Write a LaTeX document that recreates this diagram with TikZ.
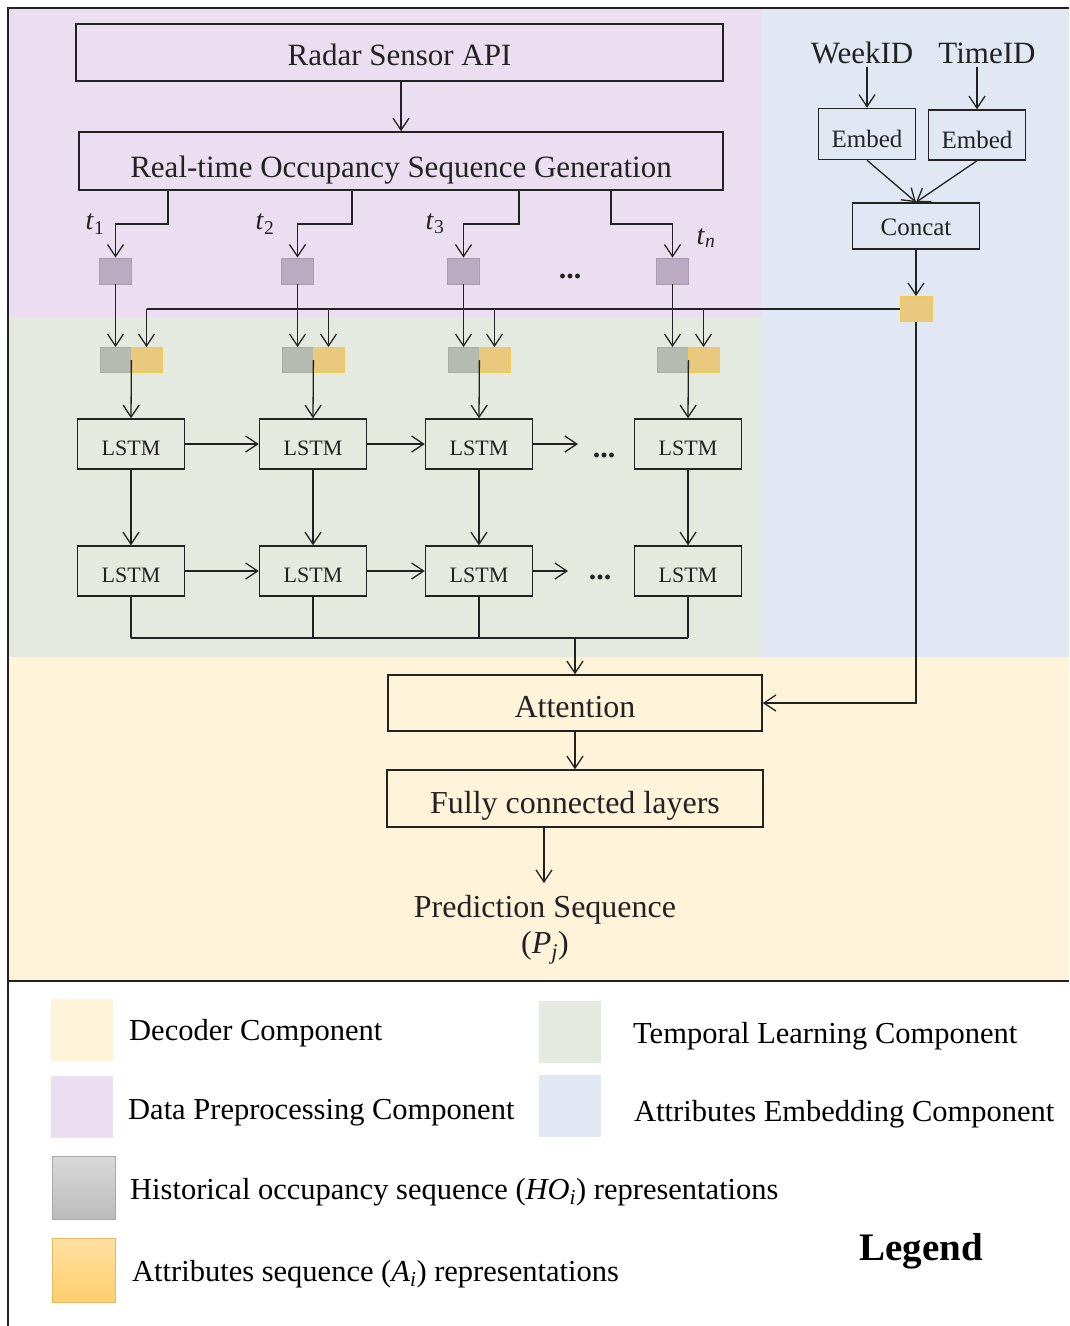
\documentclass[tikz,border=0pt]{standalone}
\usepackage{fontspec}
\setmainfont{Liberation Serif}
\usetikzlibrary{arrows.meta,calc}

\definecolor{prepbg}{HTML}{EBDEF0}
\definecolor{embbg}{HTML}{E1E8F4}
\definecolor{tempbg}{HTML}{E5EAE0}
\definecolor{decbg}{HTML}{FFF4D9}
\definecolor{ink}{HTML}{222222}
\definecolor{seqfill}{HTML}{BAABC3}
\definecolor{seqedge}{HTML}{AA9BB3}
\definecolor{histfill}{HTML}{B6BBB1}
\definecolor{histedge}{HTML}{A9AEA4}
\definecolor{attfill}{HTML}{E8C97E}
\definecolor{attedge}{HTML}{EFCA55}
\definecolor{greytop}{HTML}{D8D8D8}
\definecolor{greybot}{HTML}{BCBCBC}
\definecolor{orgtop}{HTML}{FFE0A2}
\definecolor{orgbot}{HTML}{FFCE6C}

\newcommand\fs[2]{\fontsize{#1}{#2}\selectfont}
\newcommand\tsub[2]{\textit{#1}\textsubscript{#2}}
\newcommand\isub[2]{\textit{#1}\textsubscript{\textit{#2}}}

\begin{document}
\begin{tikzpicture}[x=1pt,y=-1pt,
  box/.style={draw=ink, line width=1.5pt, inner sep=0pt, text=ink, text depth=0pt},
  lstm/.style={box, minimum width=107pt, minimum height=50pt, font=\fs{22}{26}, text height=22.6pt},
  arr/.style={draw=ink, line width=1.3pt, -{Straight Barb[length=12pt,width=16pt]}},
  wire/.style={draw=ink, line width=1.3pt},
  seqbox/.style={fill=seqfill, draw=seqedge, line width=0.8pt, minimum width=32pt, minimum height=26pt, inner sep=0pt},
  histbox/.style={fill=histfill, draw=histedge, line width=0.8pt, minimum width=31pt, minimum height=25pt, inner sep=0pt},
  attbox/.style={fill=attfill, draw=attedge, line width=0.8pt, minimum width=31pt, minimum height=25pt, inner sep=0pt},
  dots/.style={inner sep=0pt, text=ink, font=\fs{30}{36}\bfseries},
  tlabel/.style={text=ink, inner sep=0pt, font=\fs{28}{32}},
  swatch/.style={inner sep=0pt, minimum width=62pt, minimum height=62pt},
  legtext/.style={anchor=west, inner sep=0pt, font=\fs{30.5}{36}},
]
\useasboundingbox (0,0) rectangle (1069,1326);

% component backgrounds
\fill[white] (0,0) rectangle (1069,1326);
\fill[prepbg] (8,8) rectangle (762,318);
\fill[embbg] (762,8) rectangle (1069,657);
\fill[tempbg] (8,318) rectangle (762,657);
\fill[decbg] (8,657) rectangle (1069,981);
\draw[ink, line width=1.5pt] (1069,8) -- (8,8) -- (8,1326);
\draw[ink, line width=2pt] (8,981) -- (1069,981);

% data preprocessing
\node[box, minimum width=647pt, minimum height=57pt, font=\fs{31}{36}, text height=25pt] (api) at (399.5,52.5) {Radar Sensor API};
\node[box, minimum width=644pt, minimum height=58pt, font=\fs{31}{36}, text height=32pt] (gen) at (401,161) {Real-time Occupancy Sequence Generation};
\draw[arr] (gen.north |- api.south) -- (gen.north);

% attributes embedding
\node[inner sep=3pt, text=ink, font=\fs{31}{36}] (wk) at (862,53) {WeekID};
\node[inner sep=3pt, text=ink, font=\fs{31}{36}] (tm) at (987,53) {TimeID};
\node[box, minimum width=97pt, minimum height=51pt, font=\fs{25}{30}, text height=27pt] (e1) at (867,134) {Embed};
\node[box, minimum width=97pt, minimum height=50pt, font=\fs{25}{30}, text height=27pt] (e2) at (977,135) {Embed};
\node[box, minimum width=127pt, minimum height=46pt, font=\fs{25}{30}, text height=18pt] (cc) at (916,226) {Concat};
\node[attbox, minimum width=32pt] (ab) at (916,309) {};
\draw[arr] (e1.north |- wk.south) -- (e1.north);
\draw[arr] (e2.north |- tm.south) -- (e2.north);
\draw[arr] (e1.south) -- (cc.north);
\draw[arr] (e2.south) -- (cc.north);
\draw[arr] (cc) -- (ab);

% time steps, input pairs and the two LSTM layers
\foreach \i/\x/\b in {1/131/168, 2/313/352, 3/479/519, 4/688/611} {
  \node[seqbox] (s\i) at (\x-15.5,271) {};
  \node[histbox] (g\i) at (\x-15.5,360) {};
  \node[attbox] (o\i) at (\x+15.5,360) {};
  \node[lstm] (la\i) at (\x,444) {LSTM};
  \node[lstm] (lb\i) at (\x,571) {LSTM};
  \coordinate (k\i) at (\b,224);
  \draw[arr] (gen.south -| k\i) -- (k\i) -| (s\i.north);
  \draw[arr] (s\i) -- (g\i);
  \draw[wire] (ab.west) -- (ab.west -| o\i.north);
  \draw[arr] (ab.west -| o\i.north) -- (o\i.north);
  \draw[arr] (g\i.east) -- (la\i.north);
  \draw[arr] (la\i) -- (lb\i);
}
\node[tlabel] (t1) at (95,224) {\tsub{t}{1}};
\node[tlabel] (t2) at (265,224) {\tsub{t}{2}};
\node[tlabel] (t3) at (435,224) {\tsub{t}{3}};
\node[tlabel] (tn) at (706,238) {\isub{t}{n}};
\node[dots] (d0) at (570,276) {...};

% recurrent links
\draw[arr] (la1) -- (la2);
\draw[arr] (la2) -- (la3);
\coordinate (ea) at (578,444);
\draw[arr] (la3.east) -- (ea);
\node[dots] (da) at (604,455) {...};
\draw[arr] (lb1) -- (lb2);
\draw[arr] (lb2) -- (lb3);
\coordinate (eb) at (568,571);
\draw[arr] (lb3.east) -- (eb);
\node[dots] (db) at (600,577) {...};

% decoder
\node[box, minimum width=374pt, minimum height=56pt, font=\fs{32}{38}, text height=29pt] (att) at (575,703) {Attention};
\node[box, minimum width=376pt, minimum height=57pt, font=\fs{32}{38}, text height=30pt] (fc) at (575,798.5) {Fully connected layers};
\node[text=ink, inner sep=0pt, align=center, anchor=base, font=\fs{32}{36}] (pred) at (545,953) {Prediction Sequence\\(\isub{P}{j})};
\coordinate (pe) at (544,883);
\coordinate (busy) at (0,638);
\foreach \i in {1,...,4} {
  \draw[wire] (lb\i.south) -- (lb\i.south |- busy);
}
\draw[wire] (lb1.south |- busy) -- (lb4.south |- busy);
\draw[arr] (att.north |- busy) -- (att.north);
\draw[arr] (ab.south) |- (att.east);
\draw[arr] (att) -- (fc);
\draw[arr] (fc.south -| pe) -- (pe);

% legend
\node[swatch, fill=decbg] (sw1) at (82,1030) {};
\node[swatch, fill=tempbg] (sw2) at (569.5,1031.5) {};
\node[swatch, fill=prepbg] (sw3) at (82,1106.5) {};
\node[swatch, fill=embbg] (sw4) at (569.5,1105.5) {};
\node[swatch, minimum width=63pt, minimum height=63pt, draw=greybot!90!black, line width=0.5pt, top color=greytop, bottom color=greybot] (sw5) at (84,1187.5) {};
\node[swatch, minimum width=63pt, minimum height=64pt, draw=orgbot!90!black, line width=0.5pt, top color=orgtop, bottom color=orgbot] (sw6) at (84,1270) {};
\node[legtext] (lt1) at (129,1033) {Decoder Component};
\node[legtext] (lt2) at (633,1036) {Temporal Learning Component};
\node[legtext] (lt3) at (128,1113) {Data Preprocessing Component};
\node[legtext] (lt4) at (634,1114) {Attributes Embedding Component};
\node[legtext] (lt5) at (130,1192) {Historical occupancy sequence (\isub{HO}{i}) representations};
\node[legtext] (lt6) at (132,1274) {Attributes sequence (\isub{A}{i}) representations};
\node[inner sep=0pt, font=\fs{39}{44}\bfseries] (lg) at (921,1251) {Legend};
\end{tikzpicture}
\end{document}
